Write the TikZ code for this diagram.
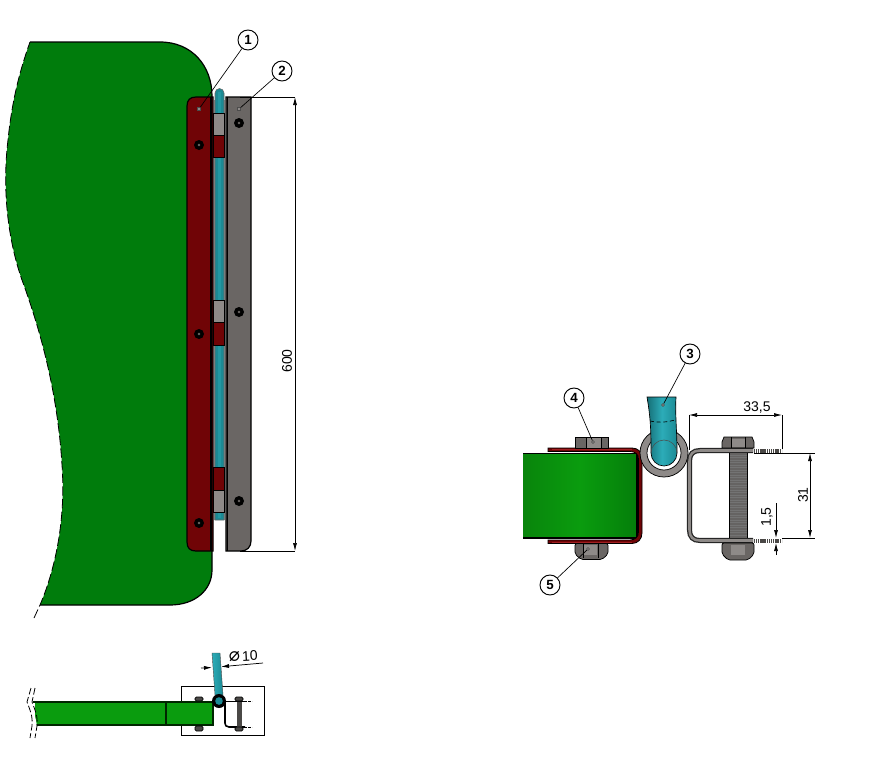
\documentclass[tikz,border=0pt]{standalone}
\usepackage{fontspec}
\setmainfont{Liberation Sans}
\newfontfamily\symfont{DejaVu Sans}
\usetikzlibrary{arrows.meta}
\definecolor{gmain}{HTML}{007C0C}
\definecolor{gbar}{HTML}{0A9C0E}
\definecolor{gdark}{HTML}{006A08}
\definecolor{rplate}{HTML}{700406}
\definecolor{rbright}{HTML}{A01E20}
\definecolor{gplate}{HTML}{6A6664}
\definecolor{glight}{HTML}{8E8A88}
\definecolor{gdk}{HTML}{4A4846}
\definecolor{teal1}{HTML}{1B8A94}
\definecolor{teal2}{HTML}{2CACB8}
\tikzset{
  x=0.75pt,y=-0.75pt,
  outl/.style={draw=black,line width=0.9pt},
  thinl/.style={draw=black,line width=0.55pt},
  dimline/.style={draw=black,line width=0.55pt},
  dimarrow/.style={dimline,{Latex[length=6pt,width=3pt]}-{Latex[length=6pt,width=3pt]}},
  onearrow/.style={dimline,-{Latex[length=6pt,width=3pt]}},
  dimtext/.style={font=\fontsize{10.5}{12}\selectfont,inner sep=0pt,text=black},
  callout/.style={circle,draw=black,line width=0.7pt,fill=white,minimum size=15pt,inner sep=0pt,font=\fontsize{10}{11}\selectfont\bfseries},
  leader/.style={draw=black,line width=0.5pt},
  tinysq/.style={draw=black!70,line width=0.35pt,fill=glight,minimum size=2.2pt,inner sep=0pt},
  threads/.style={draw=gdk,line width=2.6pt,dash pattern=on 0.9pt off 0.5pt},
}
\newcommand{\boltdot}[1]{\fill[black] #1 circle (5); \fill[gplate] #1 circle (1.4);}
\begin{document}
\begin{tikzpicture}
\useasboundingbox (0,0) rectangle (873,760);
\fill[white] (0,0) rectangle (873,760);
% ---------- big green sheet
\fill[gmain] (30,42) -- (160,42) .. controls (192,42) and (212,66) .. (212,96) -- (212,570)
  .. controls (212,590) and (195,605) .. (170,605) -- (40,605)
  .. controls (55,570) and (66,520) .. (62,465) .. controls (58,400) and (44,340) .. (22,280)
  .. controls (8,240) and (2,190) .. (8,140) .. controls (12,100) and (20,70) .. (30,42) -- cycle;
\draw[outl] (30,42) -- (160,42) .. controls (192,42) and (212,66) .. (212,96) -- (212,570)
  .. controls (212,590) and (195,605) .. (170,605) -- (40,605);
\draw[draw=black,line width=0.6pt,dash pattern=on 7pt off 2.5pt]
  (34,618) -- (40,605) .. controls (55,570) and (66,520) .. (62,465) .. controls (58,400) and (44,340) .. (22,280)
  .. controls (8,240) and (2,190) .. (8,140) .. controls (12,100) and (20,70) .. (30,42);
% ---------- teal rod with clamps
\fill[white] (213,97) rectangle (226,551);
\fill[glight] (213.5,100) rectangle (224.5,520);
\fill[teal1,draw=black!60,line width=0.4pt] (215,520) -- (215,93) arc[start angle=180,end angle=360,radius=4.5] -- (224,520) -- cycle;
\fill[teal1!60!teal2] (218,92) rectangle (221,518);
\foreach \a/\b in {113/135,300/322,490/512}{\fill[glight] (213,\a) rectangle (224.5,\b); \draw[thinl] (213,\a) rectangle (224.5,\b);}
\foreach \a/\b in {135/157,322/345,467/490}{\fill[rplate] (213,\a) rectangle (224.5,\b); \draw[thinl] (213,\a) rectangle (224.5,\b);}
% ---------- plates
\draw[outl,fill=rplate] (213,97) -- (196,97) .. controls (190,97) and (187,100) .. (187,106) -- (187,542)
  .. controls (187,548) and (190,551) .. (196,551) -- (213,551) -- cycle;
\draw[line width=1.1pt,black] (211,97) -- (211,551);
\draw[outl,fill=gplate] (226,97) -- (251,97) -- (251,541) .. controls (251,547) and (247,551) .. (241,551) -- (226,551) -- cycle;
\draw[line width=0.9pt,black] (227.5,97) -- (227.5,551);
\foreach \p in {(239,123),(239,312),(239,501),(199,145),(199,334),(199,523)}{\boltdot{\p}}
% ---------- main dimension
\coordinate (dimA) at (295,97); \coordinate (dimB) at (295,551);
\coordinate (dimAe) at (240,97); \coordinate (dimBe) at (240,551);
\draw[dimline] (dimAe) -- (dimA); \draw[dimline] (dimBe) -- (dimB);
\draw[dimarrow] (dimA) -- (dimB);
\node[dimtext,rotate=90] (d600) at (287,361) {600};
% ---------- right view: green, red bracket
\shade[left color=gbar!85!black,right color=gdark!60!gbar,middle color=gbar] (523,453) rectangle (637,538);
\draw[draw=black,line width=0.8pt] (637,453) -- (637,538) -- (523,538);
\draw[draw=black,line width=0.5pt] (523,453) -- (637,453);
\draw[draw=black,line width=0.6pt,fill=rplate] (548,448) -- (632,448) .. controls (638,448) and (642,452) .. (642,458) -- (642,533)
  .. controls (642,539) and (638,543.5) .. (632,543.5) -- (548,543.5) -- (548,540) -- (630,540)
  .. controls (635,540) and (638.5,537) .. (638.5,532) -- (638.5,459) .. controls (638.5,454) and (635,451.5) .. (630,451.5) -- (548,451.5) -- cycle;
\fill[rbright] (552,449.2) rectangle (632,450.2);
\fill[rbright] (552,541.6) rectangle (632,542.6);
% bolt 4 (hex)
\draw[thinl,fill=gplate] (575,437) rectangle (608,448);
\fill[glight] (586,438) rectangle (601,447.5);
\draw[thinl] (586,437) -- (586,448) (601,437) -- (601,448);
% nut 5
\draw[thinl,fill=gplate,rounded corners=1.5pt] (575,543.5) -- (575,554) -- (581,559.5) -- (602,559.5) -- (608,554) -- (608,543.5) -- cycle;
\fill[glight] (584,545) rectangle (597,555);
\draw[thinl] (583,544) -- (583,558) (598,544) -- (598,558);
% ring and teal ball
\draw[thinl,fill=glight] (664,453) circle (24);
\draw[thinl,fill=white] (664,453) circle (17);
\shade[left color=teal1!80!black,right color=teal1,middle color=teal2,draw=black,line width=0.5pt] (647,397) -- (676,397) .. controls (675,415) and (677,430) .. (677,453)
  arc[start angle=0,end angle=180,radius=13] .. controls (651,435) and (651,420) .. (647,397) -- cycle;
\draw[draw=black,line width=0.5pt,densely dashed] (650,421) .. controls (660,423) and (668,422) .. (675,420);
\draw[draw=black!70,line width=0.4pt] (651,453) arc[start angle=180,end angle=360,radius=13];
% ---------- right view: U bracket with bolt
\draw[draw=black!85,line width=3.8pt] (753,450.5) -- (700,450.5) .. controls (693,450.5) and (689.5,454) .. (689.5,461) -- (689.5,530)
  .. controls (689.5,537) and (693,540.5) .. (700,540.5) -- (753,540.5);
\draw[draw=glight,line width=1.9pt] (753,450.5) -- (700,450.5) .. controls (693,450.5) and (689.5,454) .. (689.5,461) -- (689.5,530)
  .. controls (689.5,537) and (693,540.5) .. (700,540.5) -- (753,540.5);
\fill[gdk!85] (729,453) rectangle (747,538);
\foreach \yy in {455,457.5,...,537}{\draw[draw=black!55,line width=0.25pt] (729,\yy) -- (747,\yy);}
\draw[thinl] (729,453) -- (729,538) (747,453) -- (747,538);
\draw[thinl,fill=gplate] (724,437) -- (752,437) -- (754,442) -- (754,448) -- (722,448) -- (722,442) -- cycle;
\fill[glight] (731,438.5) rectangle (745,447);
\draw[thinl] (731,437) -- (731,448) (745,437) -- (745,448);
\draw[thinl,fill=gplate,rounded corners=1.5pt] (722,543) -- (722,554) -- (728,560) -- (748,560) -- (754,554) -- (754,543) -- cycle;
\fill[glight] (731,545) rectangle (745,555);
\draw[threads] (754,451) -- (782,451);
\draw[threads] (754,541) -- (782,541);
% dims right view
\coordinate (a1) at (689,415); \coordinate (a2) at (782,415);
\coordinate (a1e) at (689,450); \coordinate (a2e) at (782,449);
\draw[dimline] (a1) -- (a1e); \draw[dimline] (a2) -- (a2e);
\draw[dimarrow] (a1) -- (a2);
\node[dimtext] (d335) at (757,407) {33,5};
\coordinate (b1) at (810,453); \coordinate (b2) at (810,538);
\coordinate (b1e) at (754,453); \coordinate (b2e) at (782,538);
\draw[dimline] (b1e) -- (815,453); \draw[dimline] (b2e) -- (815,538);
\draw[dimarrow] (b1) -- (b2);
\node[dimtext,rotate=90] (d31) at (803,495) {31};
\coordinate (c0) at (776,503); \coordinate (c1) at (776,538); \coordinate (c2) at (776,555); \coordinate (c3) at (776,543);
\draw[onearrow] (c0) -- (c1);
\draw[onearrow] (c2) -- (c3);
\node[dimtext,rotate=90] (d15) at (767,517) {1,5};
% ---------- bottom view
\draw[draw=black,line width=0.6pt] (181,686) rectangle (264,735);
\fill[gbar] (35,702) rectangle (213,725);
\draw[draw=black!85!green,line width=1pt] (33,702) -- (213,702) -- (213,725) -- (35,725);
\draw[draw=black!85!green,line width=0.9pt] (166,702) -- (166,725);
\fill[white] (24,700) .. controls (28,708) and (32,715) .. (33,728) -- (37,728) .. controls (36,715) and (32,708) .. (29,700) -- cycle;
\draw[draw=black,line width=0.6pt,dash pattern=on 5pt off 2pt] (31,688) -- (27,702) .. controls (30,710) and (33,716) .. (32,726) -- (30,738);
\draw[draw=black,line width=0.6pt,dash pattern=on 5pt off 2pt] (35,688) -- (32,702) .. controls (35,710) and (38,716) .. (37,726) -- (35,738);
% bolts left
\draw[draw=black,fill=gdk,line width=0.5pt,rounded corners=1pt] (195,697) rectangle (203,701);
\draw[draw=black,fill=gdk,line width=0.5pt,rounded corners=1pt] (195,726) rectangle (203,731);
% rod
\shade[left color=teal2,right color=teal1,draw=black!70,line width=0.3pt] (212,653) -- (220,653) -- (223,695) -- (215,695) -- cycle;
\fill[black] (219,701) circle (7);
\fill[teal1] (219,701) circle (3.8);
% small U
\draw[draw=black,line width=1.2pt] (224,701.5) -- (245,701.5);
\draw[draw=black,line width=1.2pt] (245,727) -- (229,727) .. controls (226,727) and (225,725) .. (225,723) -- (225,702);
\fill[gdk] (237,702) rectangle (242,727);
\draw[draw=black,fill=gdk,line width=0.5pt,rounded corners=1pt] (235,697) rectangle (243,701);
\draw[draw=black,fill=gdk,line width=0.5pt,rounded corners=1pt] (235,727) rectangle (243,731);
\draw[draw=black,line width=0.7pt,dash pattern=on 2pt off 1pt] (244,701) -- (252,701);
\draw[draw=black,line width=0.7pt,dash pattern=on 2pt off 1pt] (244,727) -- (252,727);
% phi dim
\coordinate (p1) at (201,668); \coordinate (p2) at (212,667.5);
\coordinate (p3) at (263,663); \coordinate (p4) at (221,666.7);
\draw[onearrow] (p1) -- (p2);
\draw[onearrow] (p3) -- (p4);
\node[dimtext,rotate=3] (d10) at (243,656.5) {{\symfont\fontsize{14}{14}\selectfont\itshape ⌀}\,10};
% ---------- callouts
\node[callout] (n1) at (248,40) {1};
\node[callout] (n2) at (282,71) {2};
\node[callout] (n3) at (690,354) {3};
\node[callout] (n4) at (574,398) {4};
\node[callout] (n5) at (550,585) {5};
\node[tinysq] (t1) at (199,109) {};
\node[tinysq] (t2) at (239,109) {};
\node[tinysq,shape=circle] (t3) at (663,405) {};
\node[tinysq,shape=circle] (t4) at (593,442) {};
\node[tinysq,shape=circle] (t5) at (588,549) {};
\draw[leader] (n1) -- (t1);
\draw[leader] (n2) -- (t2);
\draw[leader] (n3) -- (t3);
\draw[leader] (n4) -- (t4);
\draw[leader] (n5) -- (t5);
\end{tikzpicture}
\end{document}
